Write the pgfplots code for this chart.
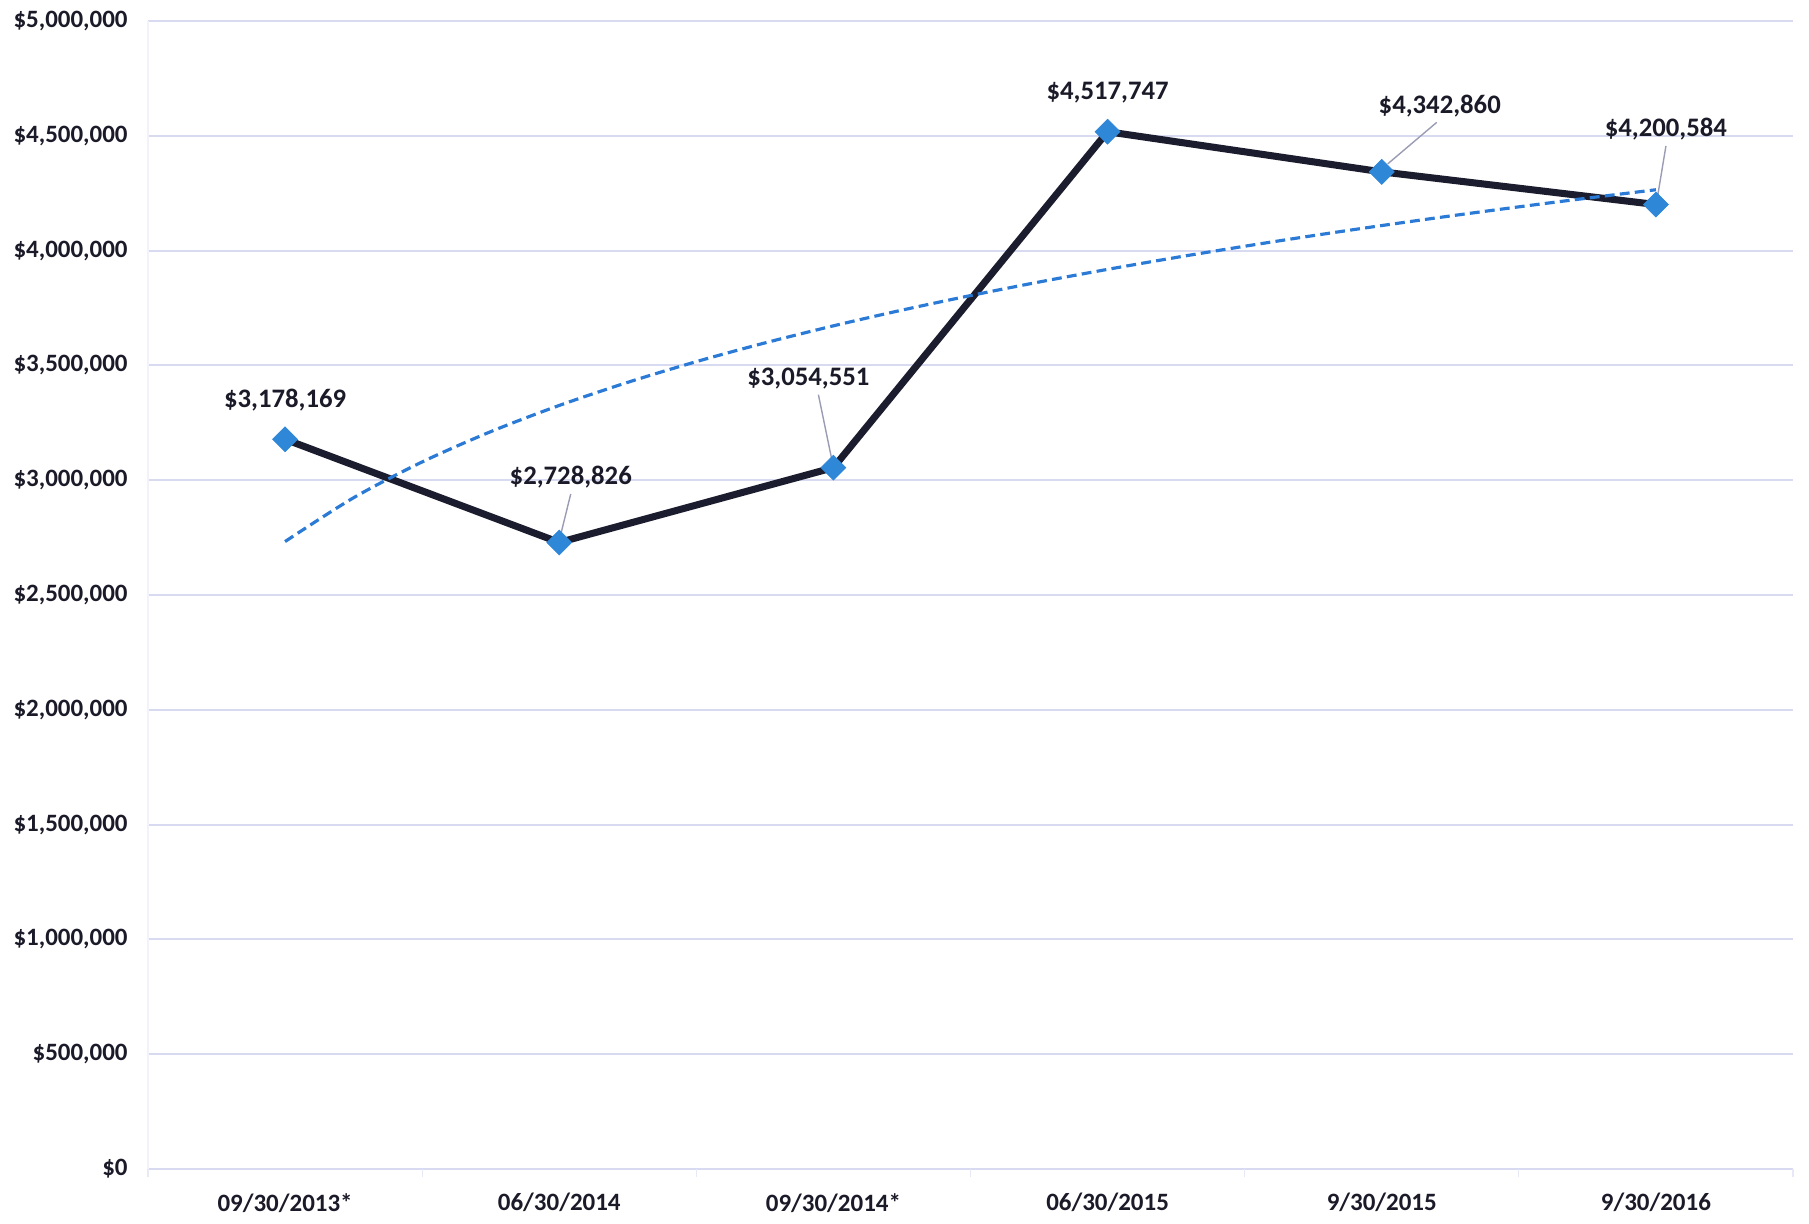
\documentclass[border=0pt]{standalone}
\usepackage{pgfplots}
\pgfplotsset{compat=1.18}
\usepackage{fontspec}
\setmainfont{Carlito}
\definecolor{linecol}{HTML}{1B1D2E}
\definecolor{markcol}{HTML}{2F87D8}
\definecolor{trendcol}{HTML}{2B7BD6}
\definecolor{textcol}{HTML}{1A1A28}
\definecolor{gridcol}{HTML}{D8DAF2}
\definecolor{leadcol}{HTML}{9A9CB4}
\tikzset{
  lbl/.style={font=\fontsize{7.6}{9}\selectfont\bfseries, text=textcol, inner sep=0.5pt},
  leader/.style={draw=leadcol, line width=0.4pt},
}
\begin{document}
\begin{tikzpicture}
\begin{axis}[
  width=164.5mm, height=114.8mm, scale only axis,
  xmin=-0.5, xmax=5.5, ymin=0, ymax=5000000,
  axis line style={draw=none},
  xtick={0,1,2,3,4,5},
  xticklabels={09/30/2013*,06/30/2014,09/30/2014*,06/30/2015,9/30/2015,9/30/2016},
  ytick={0,500000,1000000,1500000,2000000,2500000,3000000,3500000,4000000,4500000,5000000},
  yticklabels={\$0,{\$500,000},{\$1,000,000},{\$1,500,000},{\$2,000,000},{\$2,500,000},{\$3,000,000},{\$3,500,000},{\$4,000,000},{\$4,500,000},{\$5,000,000}},
  scaled y ticks=false,
  major tick length=0pt,
  ymajorgrids, grid style={color=gridcol, line width=0.6pt},
  tick label style={font=\fontsize{7.1}{8}\selectfont\bfseries, text=textcol},
  yticklabel style={xshift=-0.8mm},
  xticklabel style={yshift=-1.2mm},
  extra x ticks={-0.5,0.5,1.5,2.5,3.5,4.5,5.5}, extra x tick labels={},
  extra x tick style={major tick length=0.8mm, tick align=outside, tick style={color=gridcol!60, line width=0.3pt}, grid=none},
  xtick pos=left, ytick pos=left,
  clip=false,
]
\draw[gridcol!35, line width=0.3pt] (rel axis cs:0,0) -- (rel axis cs:0,1);
\addplot[linecol, line width=2pt, mark=square*, mark size=2.5pt,
  mark options={rotate=45, fill=markcol, draw=markcol, line width=0.2pt}]
  coordinates {(0,3178169) (1,2728826) (2,3054551) (3,4517747) (4,4342860) (5,4200584)};
\addplot[trendcol, line width=0.9pt, dash pattern=on 2.8pt off 1.5pt, smooth, mark=none]
  coordinates {
  (0,2732826) (0.25,2923634) (0.5,3079525) (0.75,3211343) (1,3325522)
  (1.25,3426236) (1.5,3516328) (1.75,3597826) (2,3672228) (2.25,3740672)
  (2.5,3804041) (2.75,3863035) (3,3918220) (3.25,3970059) (3.5,4018934)
  (3.75,4065166) (4,4109026) (4.25,4150745) (4.5,4190524) (4.75,4228534) (5,4264925)};
\node[lbl] (l1) at ([shift={(0mm,3.9mm)}]axis cs:0,3178169) {\$3,178,169};
\node[lbl] (l2) at ([shift={(1.15mm,6.5mm)}]axis cs:1,2728826) {\$2,728,826};
\node[lbl] (l3) at ([shift={(-2.5mm,8.9mm)}]axis cs:2,3054551) {\$3,054,551};
\node[lbl] (l4) at ([shift={(0mm,3.9mm)}]axis cs:3,4517747) {\$4,517,747};
\node[lbl] (l5) at ([shift={(5.8mm,6.6mm)}]axis cs:4,4342860) {\$4,342,860};
\node[lbl] (l6) at ([shift={(1.0mm,7.5mm)}]axis cs:5,4200584) {\$4,200,584};
\draw[leader] ([yshift=-0.3mm]l2.south) -- ([shift={(0.2mm,1.0mm)}]axis cs:1,2728826);
\draw[leader] ([shift={(1mm,-0.3mm)}]l3.south) -- ([shift={(-0.2mm,1.0mm)}]axis cs:2,3054551);
\draw[leader] ([shift={(-0.3mm,-0.3mm)}]l5.south) -- ([shift={(0.6mm,0.8mm)}]axis cs:4,4342860);
\draw[leader] ([yshift=-0.3mm]l6.south) -- ([shift={(0.2mm,1.0mm)}]axis cs:5,4200584);
\end{axis}
\pgfresetboundingbox
\path[use as bounding box] (-14.8mm,-5.5mm) rectangle (166.1mm,116.9mm);
\end{tikzpicture}
\end{document}
